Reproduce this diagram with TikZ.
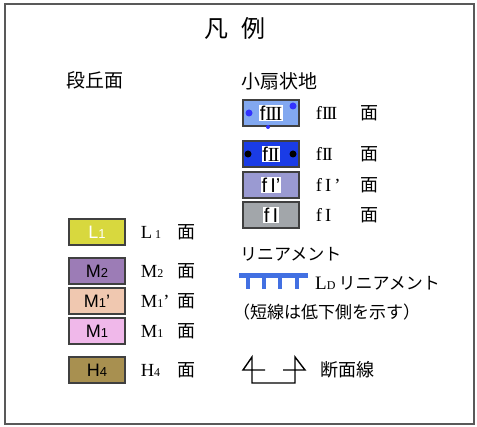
\documentclass[tikz,border=0pt]{standalone}
\usepackage{fontspec}
\setmainfont{Liberation Serif}
\setsansfont{Liberation Sans}
\newfontfamily\jp{Noto Sans CJK JP}
\usetikzlibrary{positioning}

\definecolor{colL}{HTML}{D8D83E}
\definecolor{colMtwo}{HTML}{9C7CB6}
\definecolor{colMdash}{HTML}{F0C8B0}
\definecolor{colMone}{HTML}{F0B8EA}
\definecolor{colH}{HTML}{A89050}
\definecolor{colfthree}{HTML}{82A8F0}
\definecolor{colftwo}{HTML}{1A3CE6}
\definecolor{colfdash}{HTML}{9A9AD2}
\definecolor{colfone}{HTML}{A2A6AA}
\definecolor{colLD}{HTML}{4270E2}

\newcommand{\sm}[1]{{\fontsize{12}{12}\selectfont #1}}
\newcommand{\bsm}[1]{{\fontsize{13}{13}\selectfont #1}}
\newcommand{\rthree}{I\kern-1.6pt I\kern-1.6pt I}
\newcommand{\rtwo}{I\kern-1.6pt I}

\tikzset{
  swatch/.style={draw=black!75, line width=1.3pt, minimum width=56pt, minimum height=26pt,
    inner sep=0pt, font=\sffamily\fontsize{18}{18}\selectfont},
  tagtext/.style={fill=white, inner sep=0.8pt, font=\sffamily\fontsize{20}{20}\selectfont},
  code/.style={anchor=west, inner sep=0pt, font=\fontsize{18.5}{18.5}\selectfont},
  men/.style={anchor=west, inner sep=0pt, font=\jp\fontsize{18}{18}\selectfont},
  head/.style={anchor=west, inner sep=0pt, font=\jp\fontsize{19}{19}\selectfont},
  note/.style={anchor=west, inner sep=0pt, font=\jp\fontsize{17}{17}\selectfont},
}

\begin{document}
\begin{tikzpicture}[x=1pt,y=-1pt]
  \useasboundingbox (0,0) rectangle (477,427);
  \draw[black!65, line width=1.5pt] (5,4) rectangle (474,424);

  \node[inner sep=0pt, font=\jp\fontsize{24}{24}\selectfont] (title) at (235,28) {凡\hspace{14pt}例};

  % terraces
  \node[head] (terrace) at (66,80) {段丘面};
  \foreach \y/\fc/\tag/\lab [count=\i] in {
      232/colL/{\textcolor{white}{L\bsm{1}}}/{L\,\sm{1}},
      271/colMtwo/{M\bsm{2}}/{M\sm{2}},
      301/colMdash/{M\bsm{1}’}/{M\sm{1}’},
      331/colMone/{M\bsm{1}}/{M\sm{1}},
      370/colH/{H\bsm{4}}/{H\sm{4}}}{
    \node[swatch, fill=\fc] (terr\i) at (97,\y) {\tag};
    \node[code, right=15pt of terr\i] (terrcode\i) {\lab};
    \node[men] (terrmen\i) at (177,\y) {面};
  }

  % fans
  \node[head] (fan) at (241,81) {小扇状地};
  \foreach \y/\fc/\tag/\lab [count=\i] in {
      113/colfthree/{f{\rmfamily\rthree}}/{f\rthree},
      154/colftwo/{f{\rmfamily\rtwo}}/{f\rtwo},
      185/colfdash/{f\,I’}/{f\,I\,’},
      215/colfone/{f\,I}/{f\,I}}{
    \node[swatch, fill=\fc] (fanbox\i) at (271,\y) {};
    \node[tagtext] (fantag\i) at (fanbox\i) {\tag};
    \node[code, right=16pt of fanbox\i] (fancode\i) {\lab};
    \node[men] (fanmen\i) at (360,\y) {面};
  }
  \fill[blue!80] (249,113) circle (3.5) (293,106) circle (3.5) (268,127) circle (2);
  \fill[black] (248,154) circle (3.5) (293,154) circle (3.5);

  % lineament
  \node[note] (linhead) at (240,254) {リニアメント};
  \draw[colLD, line width=5pt] (239,276) -- (308,276);
  \foreach \x in {248,264,280,297}
    \draw[colLD, line width=3.5pt] (\x,276) -- (\x,289);
  \node[code, font=\fontsize{19}{19}\selectfont] (ldlab) at (315,283)
    {L\sm{D}\,{\jp\fontsize{17}{17}\selectfont リニアメント}};
  \node[note] (ldnote) at (233,312) {（短線は低下側を示す）};

  % section line
  \draw[black, line width=1.4pt] (265,370) -- (243,370) -- (252,357) -- (252,383)
    -- (295,383) -- (295,357) -- (305,370) -- (283,370);
  \node[note, font=\jp\fontsize{18}{18}\selectfont] (seclab) at (320,370) {断面線};
\end{tikzpicture}
\end{document}
